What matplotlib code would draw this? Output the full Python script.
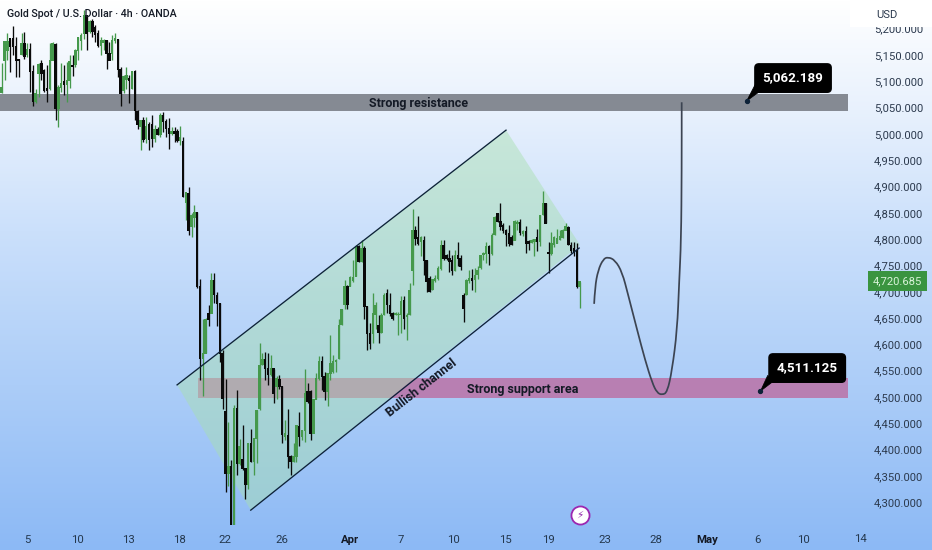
import numpy as np
import matplotlib
matplotlib.use("Agg")
import matplotlib.pyplot as plt
from matplotlib.patches import Polygon, PathPatch, Rectangle
from matplotlib.path import Path

plt.rcParams['font.family'] = ['Roboto', 'Inter', 'DejaVu Sans']

opens = [5078,5140,5159,5181,5181,5167,5141,5150,5172,5150,5160,5118,5062,5115,5134,5121,5086,5086,5140,5170,
 5048,5088,5099,5094,5102,5131,5131,5159,5178,5191,5226,5194,5213,5203,5191,5167,5173,5177,5153,5153,
 5177,5179,5122,5082,5103,5105,5086,5118,5042,5013,5025,4991,5018,5018,4991,5008,4999,5036,5023,5010,
 5001,5004,5004,4988,4985,4870,4886,4823,4840,4850,4710,4573,4583,4659,4659,4721,4694,4678,4582,4472,
 4355,4368,4257,4478,4374,4381,4364,4333,4412,4377,4421,4478,4561,4572,4554,4542,4554,4520,4534,4520,
 4425,4428,4387,4377,4387,4445,4425,4437,4510,4510,4431,4496,4535,4567,4539,4510,4545,4548,4567,4573,
 4637,4675,4710,4710,4722,4729,4786,4757,4782,4672,4620,4620,4656,4637,4622,4656,4696,4675,4659,4656,
 4656,4656,4683,4653,4656,4741,4817,4803,4795,4798,4760,4725,4704,4721,4725,4744,4789,4770,4763,4760,
 4741,4770,4763,4694,4694,4722,4725,4724,4732,4746,4770,4772,4787,4772,4808,4849,4833,4827,4817,4810,
 4803,4798,4830,4831,4811,4814,4795,4793,4795,4803,4795,4846,4867,4774,4773,4789,4792,4799,4803,4817,
 4822,4789,4782,4779,4710]
closes = [5088,5175,5175,5165,5165,5140,5139,5172,5146,5160,5118,5061,5077,5132,5115,5083,5083,5140,5172,5048,
 5088,5096,5094,5102,5137,5127,5159,5183,5188,5226,5191,5213,5194,5188,5167,5178,5177,5153,5140,5178,
 5181,5122,5077,5110,5112,5102,5118,5045,5018,5025,4989,5015,4989,4991,5008,4999,5036,5023,5010,5001,
 5004,5001,4988,4994,4880,4888,4817,4846,4850,4709,4573,4583,4648,4648,4721,4694,4678,4583,4497,4355,
 4368,4257,4478,4374,4406,4364,4333,4412,4377,4421,4475,4561,4572,4554,4542,4554,4507,4535,4520,4428,
 4431,4387,4377,4387,4447,4425,4437,4507,4491,4431,4496,4535,4567,4539,4510,4545,4564,4567,4570,4637,
 4667,4710,4675,4727,4727,4786,4757,4782,4672,4621,4602,4659,4675,4622,4656,4694,4675,4659,4649,4659,
 4657,4681,4649,4656,4703,4817,4801,4792,4803,4760,4719,4700,4723,4725,4744,4789,4763,4763,4757,4741,
 4770,4763,4748,4668,4722,4725,4722,4732,4740,4770,4773,4787,4772,4808,4841,4833,4824,4817,4808,4792,
 4789,4833,4831,4812,4814,4792,4792,4798,4799,4795,4846,4867,4830,4772,4792,4803,4801,4805,4817,4824,
 4789,4778,4776,4710,4719]
highs = [5134,5175,5191,5181,5205,5184,5143,5191,5194,5172,5172,5131,5086,5134,5140,5124,5131,5172,5175,5172,
 5093,5134,5131,5137,5150,5150,5162,5184,5191,5236,5226,5216,5219,5206,5197,5184,5181,5179,5175,5188,
 5191,5181,5127,5112,5127,5112,5119,5121,5045,5026,5032,5032,5023,5036,5017,5013,5039,5042,5029,5031,
 5013,5013,5010,5015,4994,4888,4899,4850,4865,4852,4725,4649,4650,4675,4735,4735,4700,4678,4589,4535,
 4453,4380,4485,4513,4420,4447,4364,4412,4440,4421,4475,4602,4583,4586,4583,4580,4554,4539,4542,4520,
 4456,4478,4390,4412,4447,4472,4437,4554,4526,4513,4497,4545,4577,4577,4548,4545,4618,4580,4573,4649,
 4668,4722,4713,4729,4760,4789,4789,4798,4786,4672,4640,4697,4681,4656,4659,4697,4706,4697,4662,4662,
 4662,4691,4691,4659,4716,4857,4824,4843,4805,4805,4760,4729,4725,4732,4748,4798,4798,4772,4779,4770,
 4779,4794,4770,4697,4725,4741,4744,4746,4748,4770,4776,4795,4789,4811,4843,4850,4869,4830,4820,4827,
 4808,4836,4836,4838,4817,4824,4798,4801,4801,4820,4846,4892,4868,4795,4814,4805,4820,4817,4820,4831,
 4824,4795,4795,4792,4719]
lows = [5078,5102,5140,5118,5150,5108,5108,5150,5143,5146,5080,5053,5058,5070,5102,5080,5061,5083,5140,5027,
 5013,5080,5074,5061,5088,5110,5127,5140,5159,5181,5159,5191,5184,5175,5165,5150,5159,5124,5140,5140,
 5172,5108,5053,5077,5086,5059,5086,5026,5010,4969,4985,4982,4969,4975,4985,4998,4994,5004,4994,4972,
 4998,4985,4985,4979,4880,4836,4808,4804,4823,4707,4532,4501,4583,4634,4659,4678,4634,4567,4478,4320,
 4330,4257,4257,4352,4370,4361,4307,4325,4377,4352,4374,4475,4561,4532,4523,4539,4488,4497,4516,4412,
 4418,4365,4352,4377,4377,4406,4418,4415,4488,4418,4431,4497,4532,4513,4494,4482,4532,4545,4548,4573,
 4637,4668,4668,4710,4719,4729,4757,4757,4649,4589,4592,4602,4630,4602,4621,4656,4659,4653,4646,4655,
 4618,4621,4630,4608,4656,4713,4789,4789,4767,4732,4700,4700,4703,4719,4722,4741,4760,4760,4738,4732,
 4740,4749,4741,4643,4694,4716,4703,4700,4725,4744,4760,4754,4751,4770,4808,4833,4817,4811,4786,4787,
 4789,4798,4817,4808,4805,4773,4779,4792,4767,4778,4786,4846,4830,4735,4770,4785,4792,4798,4803,4817,
 4789,4773,4767,4708,4670]
n = min(len(opens), len(closes), len(highs), len(lows))
opens, closes, highs, lows = [np.array(a[:n], float) for a in (opens, closes, highs, lows)]
index = np.arange(n)

price_ticks = [4300,4350,4400,4450,4500,4550,4600,4650,4700,4750,4800,4850,4900,4950,5000,5050,5100,5150,5200]
date_positions = [8.9,26.9,44.9,62.9,78.8,98.9,122.9,141,159.3,177.7,192.8,213,231,249,266.6,282.9]
date_labels = ['5','10','13','18','22','26','Apr','7','10','15','19','23','28','May','6','10']
outer_date_position = 303
outer_date_label = '14'

resistance_zone = (5043, 5076)
support_zone = (4498, 4536)
support_start = 69.3
last_price = 4720.685
target_high = 5062.189
target_low = 4511.125

channel_idx = [61.9, 178, 204.1, 87.9]
channel_px = [4523, 5007, 4789, 4285]
lower_line_idx = [87.9, 203.8]
lower_line_p = [4285, 4783]

path_idx = [209.1,209.4,210.5,212.3,214,216.5,219,221.1,224.3,227.1,229.6,231.3,233.1,234.9,236.6,238.4,239.1,239.8,240,240]
path_p = [4677,4709,4741,4762,4766,4760,4737,4694,4627,4570,4527,4508,4504,4509,4551,4627,4717,4798,4931,5060]

fig = plt.figure(figsize=(9.32, 5.5), dpi=100)

bg = fig.add_axes([0, 0, 1, 1], zorder=-1)
bg.axis('off')
stops = np.array([[255,255,255],[232,241,253],[203,224,251],[172,205,248],[140,185,245]]) / 255
t = np.linspace(0, 1, 550)
grad = np.stack([np.interp(t, [0,.2,.42,.7,1], stops[:,i]) for i in range(3)], axis=1)[:, None, :]
bg.imshow(grad, aspect='auto', extent=[0, 1, 0, 1], origin='upper')

ax = fig.add_axes([0, 25/550, 848/932, 525/550])
ax.patch.set_alpha(0)
ax.set_xlim(-0.6, 298.7)
ax.set_ylim(4256.8, 5254.3)
for s in ax.spines.values():
    s.set_visible(False)

ax.fill_between([-0.6, 298.7], *resistance_zone, color='#858a93', lw=0, zorder=1)
ax.fill_between([support_start, 298.7], *support_zone, color='#b87fb2', lw=0, zorder=1)

ax.add_patch(Polygon(list(zip(channel_idx, channel_px)), closed=True, fc='#a8e0ae', alpha=0.46, ec='none', zorder=2))
ax.plot(channel_idx[:2], channel_px[:2], color='#0d2238', lw=0.95, zorder=5)
ax.plot(lower_line_idx, lower_line_p, color='#0d2238', lw=0.95, zorder=5)

GREEN, BLACK = '#45994c', '#0a0a0a'
up = closes >= opens
colors = np.where(up, GREEN, BLACK)
ax.vlines(index, lows, highs, colors=colors, lw=0.95, zorder=3)
ax.bar(index, np.abs(closes - opens) + 1.5, bottom=np.minimum(opens, closes) - 0.75, width=0.88,
       color=colors, lw=0, zorder=4)

pts = list(zip(path_idx, path_p))
verts = [pts[0]]
codes = [Path.MOVETO]
for a, b in zip(pts[1:-1], pts[2:]):
    verts += [a, ((a[0]+b[0])/2, (a[1]+b[1])/2)]
    codes += [Path.CURVE3, Path.CURVE3]
verts.append(pts[-1]); codes.append(Path.LINETO)
ax.add_patch(PathPatch(Path(verts, codes), fc='none', ec='#3c4452', lw=1.25, zorder=5))

ax.text(147.3, 5057.5, 'Strong resistance', ha='center', va='center', fontsize=9, fontweight='bold', color='#141a26', zorder=6)
ax.text(184, 4514, 'Strong support area', ha='center', va='center', fontsize=9, fontweight='bold', color='#141a26', zorder=6)
ax.text(148.3, 4517, 'Bullish channel', ha='center', va='center', rotation=38, rotation_mode='anchor',
        fontsize=9, fontweight='bold', color='#141a26', zorder=6)

for val, dx, xt, yt, rx, ry in [(target_high, 262.9, 279.3, 5106, 267, 5088), (target_low, 267.8, 284.3, 4555, 271.5, 4536)]:
    ax.text(xt, yt, f'{val:,.3f}', ha='center', va='center', fontsize=9.6, fontweight='bold', color='white', zorder=8,
            bbox=dict(boxstyle='round,pad=0.58,rounding_size=0.3', fc='black', ec='black'))
    ax.annotate('', xy=(dx, val), xytext=(rx, ry), zorder=8,
                arrowprops=dict(arrowstyle='wedge,tail_width=0.6,shrink_factor=0.5', fc='black', ec='black', lw=0.5,
                                shrinkA=0, shrinkB=0))
    ax.scatter([dx], [val], s=8, color='#0d2238', zorder=9)

ax.scatter([204.1], [4276], s=170, fc='white', ec='#9c27b0', lw=1.3, zorder=6)
ax.text(204.1, 4276, '\u26a1', ha='center', va='center', fontsize=7.5, color='#8e24aa',
        family=['DejaVu Sans'], zorder=7)

ax.set_xticks(date_positions)
ax.set_xticklabels(date_labels)
ax.yaxis.tick_right()
ax.set_yticks(price_ticks)
ax.set_yticklabels([f'{p:,.3f}' for p in price_ticks])
ax.tick_params(axis='x', length=0, pad=7, labelsize=8.2, labelcolor='#24384e')
ax.tick_params(axis='y', length=0, pad=18.5, labelsize=8.1, labelcolor='#2c3a4e')
for lab in ax.get_xticklabels():
    if lab.get_text() in ('Apr', 'May'):
        lab.set_fontweight('bold')
        lab.set_color('#141a26')
ax.set_xlim(-0.6, 298.7)
ax.text(outer_date_position, 4231, outer_date_label, ha='center', va='center', fontsize=8.2, color='#24384e', clip_on=False)

ax.text(1.0 + 49.5/848, last_price, f'{last_price:,.3f}', transform=ax.get_yaxis_transform(),
        ha='center', va='center', fontsize=8.1, color='#d8f3d8', clip_on=False, zorder=12,
        bbox=dict(boxstyle='square,pad=0.42', fc='#3a9440', ec='#3a9440', lw=0))

fig.add_artist(Rectangle((850/932, 1 - 27/550), 82/932, 27/550, transform=fig.transFigure, fc='white', ec='none', zorder=5))
fig.text(887/932, 1 - 15/550, 'USD', ha='center', va='center', fontsize=8.1, color='#2c3a4e', zorder=6)
fig.text(7/932, 1 - 14/550, 'Gold Spot / U.S. Dollar \u00b7 4h \u00b7 OANDA', ha='left', va='center',
         fontsize=7.7, fontweight='medium', color='#141a26', zorder=6)

fig.savefig('out.png', dpi=100)
